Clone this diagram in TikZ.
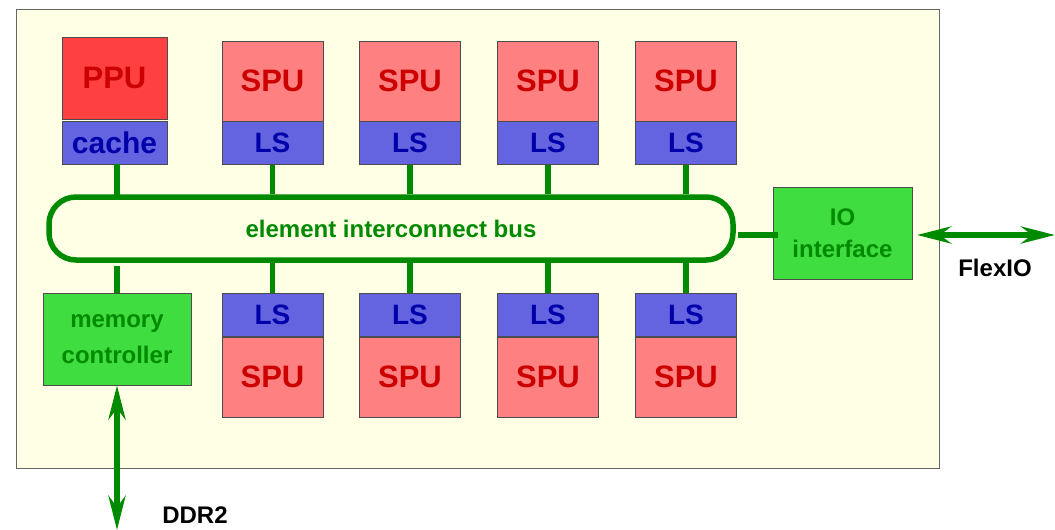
\documentclass[tikz,border=0pt]{standalone}
\usepackage{fontspec}
\setmainfont{Liberation Sans}
\usetikzlibrary{arrows.meta}
\definecolor{chipbg}{RGB}{255,255,230}
\definecolor{ppured}{RGB}{255,64,64}
\definecolor{spured}{RGB}{255,128,128}
\definecolor{lsblue}{RGB}{100,100,225}
\definecolor{boxgreen}{RGB}{64,221,64}
\definecolor{busgreen}{RGB}{0,138,0}
\definecolor{txtred}{RGB}{204,0,0}
\definecolor{txtblue}{RGB}{0,0,170}
\begin{document}
\begin{tikzpicture}[
  x=1pt,y=-1pt,
  BX/.style={draw=black!70,line width=0.8pt,inner sep=0pt,font=\bfseries\fontsize{28}{30}\selectfont},
  PP/.style={BX,fill=ppured,text=txtred,minimum width=105,minimum height=82,font=\bfseries\fontsize{31}{33}\selectfont},
  SP/.style={BX,fill=spured,text=txtred,minimum width=101,minimum height=80,font=\bfseries\fontsize{31}{33}\selectfont},
  LSB/.style={BX,fill=lsblue,text=txtblue,minimum width=101,minimum height=43},
  GB/.style={BX,fill=boxgreen,text=busgreen,align=center},
  LL/.style={draw=busgreen,line width=5.5pt},
  AA/.style={LL,{Stealth[length=34pt,width=17pt,inset=11pt]}-{Stealth[length=34pt,width=17pt,inset=11pt]}}
  ]
  \useasboundingbox (0,0) rectangle (1055,530);
  \draw [fill=chipbg,draw=black!60,line width=0.8pt] (16,9) rectangle (939,468);
  % top row
  \node [PP] (PPU) at (114.5,78) {PPU};
  \node [LSB,minimum width=105,font=\bfseries\fontsize{30}{32}\selectfont] (cache) at (114.5,142.5) {cache};
  \node [SP] (S1) at (272.5,81) {SPU};
  \node [LSB] (L1) at (272.5,143) {LS};
  \node [SP] (S2) at (410,81) {SPU};
  \node [LSB] (L2) at (410,143) {LS};
  \node [SP] (S3) at (548,81) {SPU};
  \node [LSB] (L3) at (548,143) {LS};
  \node [SP] (S4) at (686,81) {SPU};
  \node [LSB] (L4) at (686,143) {LS};
  % bus
  \node [draw=busgreen,line width=5.5pt,rounded corners=27pt,minimum width=684,minimum height=63,
         text=busgreen,font=\bfseries\fontsize{24}{28}\selectfont] (EIB) at (391,228.5) {element interconnect bus};
  % bottom row
  \node [LSB] (L5) at (272.5,315) {LS};
  \node [SP] (S5) at (272.5,377) {SPU};
  \node [LSB] (L6) at (410,315) {LS};
  \node [SP] (S6) at (410,377) {SPU};
  \node [LSB] (L7) at (548,315) {LS};
  \node [SP] (S7) at (548,377) {SPU};
  \node [LSB] (L8) at (686,315) {LS};
  \node [SP] (S8) at (686,377) {SPU};
  \node [GB,minimum width=148,minimum height=92,font=\bfseries\fontsize{24}{36}\selectfont] (MC) at (117,339) {memory\\controller};
  \node [GB,minimum width=139,minimum height=92,font=\bfseries\fontsize{24}{32}\selectfont] (IO) at (842.5,233) {IO\\interface};
  % links to the bus
  \draw [LL] (cache.south -| 117,0) -- (117,198);
  \draw [LL] (L1.south) -- (L1.south |- EIB.north);
  \draw [LL] (L2.south) -- (L2.south |- EIB.north);
  \draw [LL] (L3.south) -- (L3.south |- EIB.north);
  \draw [LL] (L4.south) -- (L4.south |- EIB.north);
  \draw [LL] (L5.north) -- (L5.north |- EIB.south);
  \draw [LL] (L6.north) -- (L6.north |- EIB.south);
  \draw [LL] (L7.north) -- (L7.north |- EIB.south);
  \draw [LL] (L8.north) -- (L8.north |- EIB.south);
  \draw [LL] (117,266) -- (MC.north -| 117,0);
  \draw [LL] (738,235) -- (778,235);
  % off-chip
  \coordinate (FX) at (1055,235);
  \coordinate (DD) at (117,530);
  \draw [AA] (917,235) -- (FX);
  \draw [AA] (MC.south) -- (DD);
  \node [font=\bfseries\fontsize{24}{26}\selectfont] (FL) at (995,268) {FlexIO};
  \node [font=\bfseries\fontsize{24}{26}\selectfont] (DL) at (195,515) {DDR2};
\end{tikzpicture}
\end{document}
